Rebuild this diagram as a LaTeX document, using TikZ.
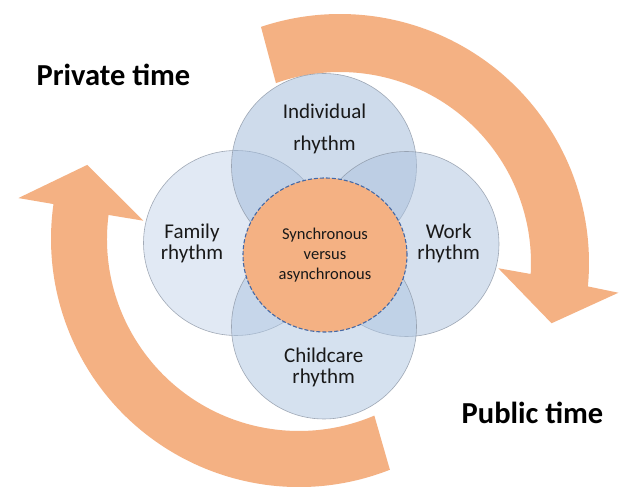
\documentclass[tikz,border=0pt]{standalone}
\usepackage{fontspec}
\setmainfont{Carlito}
\usetikzlibrary{shapes.geometric}
\definecolor{arroworange}{RGB}{244,177,131}
\definecolor{petalline}{RGB}{135,145,160}
\definecolor{centerline}{RGB}{70,105,165}
\definecolor{txt}{RGB}{25,25,25}
\definecolor{famfill}{RGB}{197,213,235}
\definecolor{indfill}{RGB}{159,185,217}
\definecolor{wrkfill}{RGB}{173,195,223}
\definecolor{chcfill}{RGB}{173,197,225}
\begin{document}
\begin{tikzpicture}[x=1pt,y=1pt,
  bigarrow/.style={fill=arroworange, draw=none},
  petal/.style={circle, minimum size=185pt, inner sep=0pt, draw=petalline, line width=0.6pt, fill opacity=0.5, draw opacity=0.75},
  petaltext/.style={font=\fontsize{21}{21}\selectfont, text=txt, align=center, anchor=base, inner sep=0pt},
  timetext/.style={font=\fontsize{30.5}{31}\selectfont\bfseries, text=black, anchor=base, inner sep=0pt},
  centerell/.style={ellipse, minimum width=164pt, minimum height=154pt, inner sep=0pt, fill=arroworange, draw=centerline, line width=1.1pt, dash pattern=on 4pt off 2pt, align=center, text=txt, font=\fontsize{16.5}{19.7}\selectfont}
]
\useasboundingbox (0,0) rectangle (619,487);
\fill[white] (0,0) rectangle (619,487);

% upper-right curved arrow
\begin{scope}[shift={(340,224)}]
\fill[bigarrow] (108.5:249) arc[start angle=108.5, end angle=-5.4, radius=249]
  -- (-6.1:280) -- (-15.9:220) -- (-1.9:158.4) -- (-3.3:191)
  arc[start angle=-3.3, end angle=109.6, radius=191] -- cycle;
\end{scope}

% lower-left curved arrow
\begin{scope}[shift={(299,248)}]
\fill[bigarrow] (-68.5:248) arc[start angle=-68.5, end angle=-188.1, radius=248]
  -- (-188.3:283.6) -- (-199.3:224.3) -- (-186.7:156.8) -- (-187.2:192)
  arc[start angle=-187.2, end angle=-66.9, radius=192] -- cycle;
\end{scope}

% petals
\node[petal, fill=famfill] (family) at (236,244) {};
\node[petal, fill=indfill] (individual) at (324,321) {};
\node[petal, fill=wrkfill] (work) at (406.5,243) {};
\node[petal, fill=chcfill] (childcare) at (324,160.5) {};

% centre
\node[centerell] (sync) at (325,232) {Synchronous\\versus\\asynchronous};

% petal labels (base = baseline of last line)
\node[petaltext] (individuallabel) at (324.5,336) {Individual\\[11pt]rhythm};
\node[petaltext] (familylabel) at (192,227.7) {Family\\rhythm};
\node[petaltext] (worklabel) at (448.7,227.7) {Work\\rhythm};
\node[petaltext] (childcarelabel) at (323.7,103.7) {Childcare\\rhythm};

% titles
\node[timetext] (private) at (113.5,401) {Private time};
\node[timetext] (public) at (532.5,63.7) {Public time};
\end{tikzpicture}
\end{document}
